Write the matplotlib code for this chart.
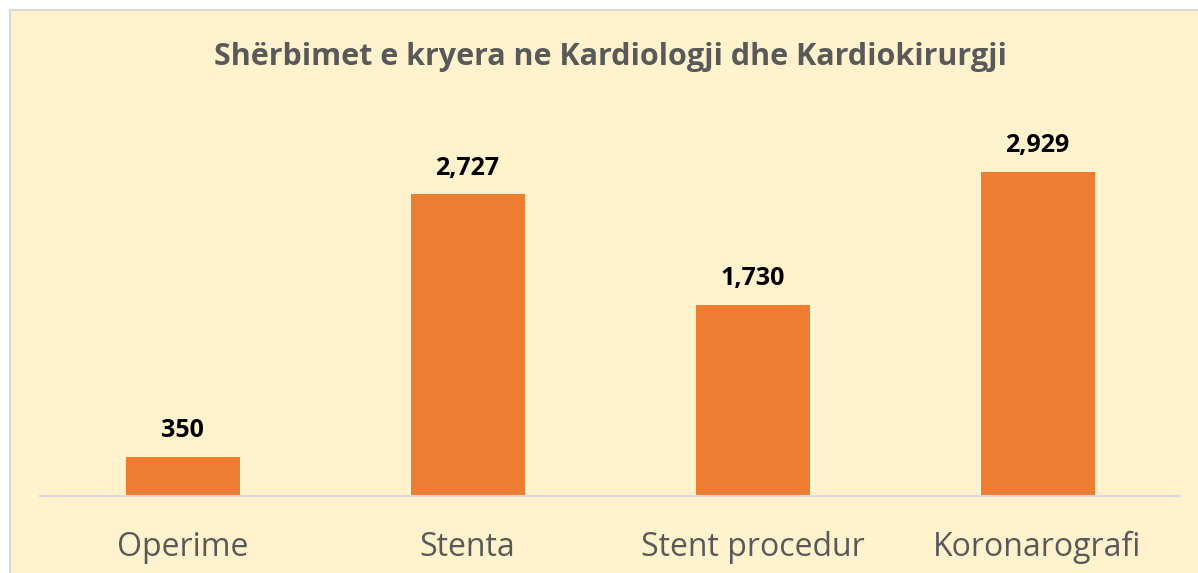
import matplotlib.pyplot as plt
from matplotlib.patches import Rectangle

categories = ['Operime', 'Stenta', 'Stent procedur', 'Koronarografi']
values = [350, 2727, 1730, 2929]
value_labels = ['350', '2,727', '1,730', '2,929']

W, H = 1198, 573
fig = plt.figure(figsize=(W / 100, H / 100), dpi=100, facecolor='white')

# chart area background with thin grey border
fig.patches.append(Rectangle((10 / W, -0.05), 1.2, 1 - 10 / H + 0.05,
                             transform=fig.transFigure, facecolor='#FFF2CC',
                             edgecolor='#D9D9D9', linewidth=1.5, zorder=-10))

ax = fig.add_axes([40 / W, 1 - 496 / H, 1140 / W, 387 / H])
ax.set_facecolor('none')
x = range(len(categories))
ax.bar(x, values, width=0.4, color='#ED7D31')
ax.set_xlim(-0.5, 3.5)
ax.set_ylim(0, 3500)

for i, v in enumerate(values):
    ax.annotate(value_labels[i], (i, v), xytext=(0, 19), textcoords='offset points',
                ha='center', va='center', fontsize=18, fontweight='bold',
                color='black', family='Open Sans')

for s in ['top', 'right', 'left']:
    ax.spines[s].set_visible(False)
ax.spines['bottom'].set_color('#D9D9D9')
ax.spines['bottom'].set_linewidth(1.5)
ax.set_yticks([])
ax.set_xticks(list(x))
ax.set_xticklabels(categories, fontsize=23, color='#595959', family='Open Sans')
ax.tick_params(axis='x', length=0, pad=25)

fig.text(610 / W, 1 - 57 / H, 'Shërbimet e kryera ne Kardiologji dhe Kardiokirurgji',
         ha='center', va='center', fontsize=22, fontweight='bold', color='#595959',
         family='Open Sans')

fig.savefig('out.png', dpi=100)
